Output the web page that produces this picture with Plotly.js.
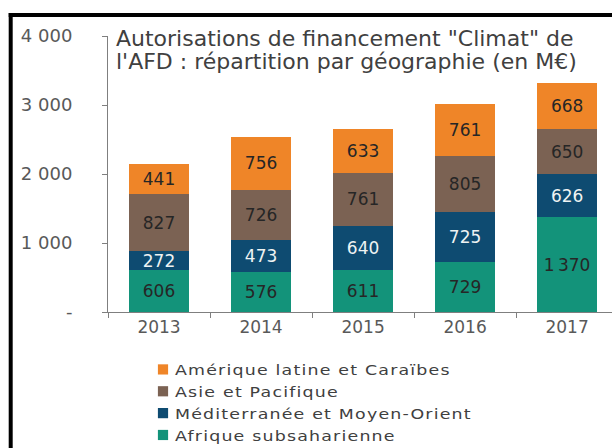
<!DOCTYPE html>
<html>
<head>
<meta charset="utf-8">
<script src="https://cdn.plot.ly/plotly-3.0.1.min.js"></script>
<style>
html, body { margin: 0; padding: 0; background: #ffffff; }
#chart { width: 612px; height: 448px; }
#chart .legend .scrollbox { clip-path: none !important; transform: translate(0px, 4px); }
#chart .legend .legendpoints { transform: translate(11px, 0px) scale(0.85); }
#chart .legendtext {
  letter-spacing: 1px;
  transform: scaleX(1.2);
  transform-box: fill-box;
  transform-origin: 0 50%;
}
</style>
</head>
<body>
<div id="chart"></div>
<script>
// ---- Data ----
var years = ["2013", "2014", "2015", "2016", "2017"];
var afrique = [606, 576, 611, 729, 1370];
var mediterranee = [272, 473, 640, 725, 626];
var asie = [827, 726, 761, 805, 650];
var amerique = [441, 756, 633, 761, 668];
var seriesNames = ["Afrique subsaharienne", "Méditerranée et Moyen-Orient", "Asie et Pacifique", "Amérique latine et Caraïbes"];
var yTickVals = [0, 1000, 2000, 3000, 4000];
var yTickText = ["-", "1 000", "2 000", "3 000", "4 000"];
var titleLine1 = "Autorisations de financement \"Climat\" de";
var titleLine2 = "l'AFD : répartition par géographie (en M€)";

// ---- Styles ----
var FONT = "DejaVu Sans";
var colors = ["#13937A", "#0E4B71", "#7B6253", "#EF8528"];
var labelColors = ["#262626", "#EEF3F3", "#262626", "#262626"];
var seriesValues = [afrique, mediterranee, asie, amerique];

var traces = seriesValues.map(function (vals, i) {
  return {
    type: "bar",
    name: seriesNames[i],
    x: years,
    y: vals,
    marker: { color: colors[i], line: { width: 0 } },
    texttemplate: "%{y:,}",
    textposition: "inside",
    insidetextanchor: "middle",
    textangle: 0,
    constraintext: "none",
    textfont: { family: FONT, size: 17, color: labelColors[i] },
    hoverinfo: "skip"
  };
});

// pixel helpers (plot area: x 108..612, y 36..312)
function px(x) { return (x - 108) / 504; }
function py(y) { return (312 - y) / 276; }

var layout = {
  width: 612,
  height: 448,
  margin: { l: 108, r: 0, t: 36, b: 136, pad: 0 },
  paper_bgcolor: "#ffffff",
  plot_bgcolor: "#ffffff",
  separators: ",\u2009",
  barmode: "stack",
  bargap: 0.41,
  uniformtext: { mode: "show", minsize: 17 },
  font: { family: FONT, color: "#404040" },
  title: {
    text: titleLine1,
    x: 116 / 612,
    xanchor: "left",
    xref: "container",
    y: 1 - 31 / 448,
    yanchor: "top",
    yref: "container",
    font: { family: FONT, size: 22, color: "#404040" }
  },
  annotations: [
    {
      text: titleLine2,
      xref: "paper", yref: "paper",
      x: px(114), xanchor: "left",
      y: py(62), yanchor: "middle",
      showarrow: false,
      font: { family: FONT, size: 22, color: "#404040" }
    }
  ],
  xaxis: {
    type: "category",
    range: [-0.5, 4.44],
    showline: true,
    linecolor: "#7F7F7F",
    linewidth: 1,
    ticks: "outside",
    tickson: "boundaries",
    ticklen: 5,
    tickcolor: "#7F7F7F",
    showgrid: false,
    zeroline: false,
    tickangle: 0,
    automargin: false,
    tickfont: { family: FONT, size: 17, color: "#595959" },
    fixedrange: true
  },
  yaxis: {
    range: [0, 4000],
    tickvals: yTickVals,
    ticktext: yTickText,
    showline: true,
    linecolor: "#7F7F7F",
    linewidth: 1,
    ticks: "outside",
    ticklen: 5,
    tickcolor: "#7F7F7F",
    showgrid: false,
    zeroline: false,
    automargin: false,
    ticklabelstandoff: 26,
    tickfont: { family: FONT, size: 18, color: "#595959" },
    fixedrange: true
  },
  showlegend: true,
  legend: {
    orientation: "v",
    traceorder: "reversed",
    x: px(135),
    xanchor: "left",
    y: py(447.5),
    yanchor: "bottom",
    bgcolor: "rgba(0,0,0,0)",
    font: { family: FONT, size: 14.5, color: "#404040" },
    itemwidth: 30,
    itemclick: false,
    itemdoubleclick: false
  },
  shapes: [
    { type: "line", xref: "paper", yref: "paper", x0: px(8.7), x1: px(640), y0: py(15), y1: py(15), line: { color: "#000000", width: 4 } },
    { type: "line", xref: "paper", yref: "paper", x0: px(10.7), x1: px(10.7), y0: py(13), y1: py(470), line: { color: "#000000", width: 4 } }
  ]
};

Plotly.newPlot("chart", traces, layout, { displayModeBar: false, staticPlot: true });
</script>
</body>
</html>
